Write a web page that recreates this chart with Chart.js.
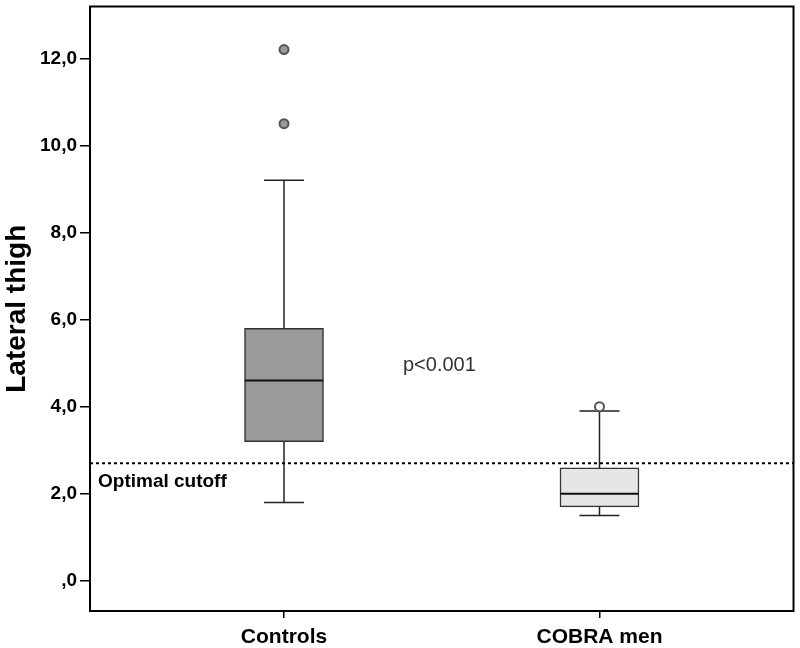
<!DOCTYPE html>
<html>
<head>
<meta charset="utf-8">
<script src="https://cdn.jsdelivr.net/npm/chart.js@4/dist/chart.umd.min.js"></script>
<style>
  html, body { margin: 0; padding: 0; background: #fff; }
  #wrap { width: 800px; height: 648px; }
</style>
</head>
<body>
<div id="wrap"><canvas id="boxChart" width="800" height="648"></canvas></div>
<script>
// groups and their box plot summaries
const groups = ['Controls', 'COBRA men'];
const groupPos = [1, 2];
const q1 = [3.2, 1.7];
const median = [4.6, 2.0];
const q3 = [5.8, 2.6];
const whiskerLow = [1.8, 1.5];
const whiskerHigh = [9.2, 3.9];
// outliers: group index + value
const outlierGroup = [0, 0, 1];
const outlierValue = [12.2, 10.5, 4.0];

const yTicks = [0, 2, 4, 6, 8, 10, 12];
const yTickLabels = [',0', '2,0', '4,0', '6,0', '8,0', '10,0', '12,0'];
const cutoff = 2.7;
const pText = 'p<0.001';

const boxFill = ['#9a9a9a', '#e6e6e6'];
const outlierFill = ['#9a9a9a', '#9a9a9a', '#ffffff'];

// whiskers, caps, medians, cutoff line, frame and annotations
const boxExtras = {
  id: 'boxExtras',
  beforeDatasetsDraw(chart) {
    const { ctx, scales: { x, y } } = chart;
    ctx.save();
    ctx.strokeStyle = '#222';
    ctx.lineWidth = 1.5;
    groupPos.forEach((g, i) => {
      const cx = x.getPixelForValue(g);
      ctx.beginPath();
      ctx.moveTo(cx, y.getPixelForValue(whiskerLow[i]));
      ctx.lineTo(cx, y.getPixelForValue(whiskerHigh[i]));
      [whiskerLow[i], whiskerHigh[i]].forEach(v => {
        const py = y.getPixelForValue(v);
        ctx.moveTo(cx - 20, py);
        ctx.lineTo(cx + 20, py);
      });
      ctx.stroke();
    });
    ctx.restore();
  },
  afterDatasetsDraw(chart) {
    const { ctx, chartArea: a, scales: { x, y } } = chart;
    ctx.save();
    ctx.strokeStyle = '#111';
    ctx.lineWidth = 2;
    groupPos.forEach((g, i) => {
      const cx = x.getPixelForValue(g);
      const py = y.getPixelForValue(median[i]);
      ctx.beginPath();
      ctx.moveTo(cx - 39, py);
      ctx.lineTo(cx + 39, py);
      ctx.stroke();
    });

    // optimal cutoff
    const cy = y.getPixelForValue(cutoff);
    ctx.setLineDash([3, 3]);
    ctx.strokeStyle = '#000';
    ctx.beginPath();
    ctx.moveTo(a.left, cy);
    ctx.lineTo(a.right, cy);
    ctx.stroke();
    ctx.setLineDash([]);

    ctx.fillStyle = '#000';
    ctx.font = 'bold 19px "Liberation Sans", Arial, sans-serif';
    ctx.textBaseline = 'middle';
    ctx.textAlign = 'left';
    ctx.fillText('Optimal cutoff', a.left + 8, cy + 18);

    ctx.fillStyle = '#333';
    ctx.font = '20px "Liberation Sans", Arial, sans-serif';
    ctx.fillText(pText, 403, 365);
    ctx.restore();
  },
  afterDraw(chart) {
    const { ctx, chartArea: a } = chart;
    ctx.save();
    ctx.strokeStyle = '#000';
    ctx.lineWidth = 2;
    ctx.strokeRect(a.left, a.top, a.right - a.left, a.bottom - a.top);
    ctx.restore();
  }
};

const ctx = document.getElementById('boxChart').getContext('2d');
new Chart(ctx, {
  type: 'bar',
  data: {
    datasets: [{
      type: 'bar',
      data: groupPos.map((g, i) => ({ x: g, y: [q1[i], q3[i]] })),
      backgroundColor: boxFill,
      borderColor: '#333',
      borderWidth: 1.5,
      borderSkipped: false,
      barThickness: 79
    }, {
      type: 'scatter',
      data: outlierValue.map((v, i) => ({ x: groupPos[outlierGroup[i]], y: v })),
      pointRadius: 4.5,
      pointBackgroundColor: outlierFill,
      pointBorderColor: '#555',
      pointBorderWidth: 2
    }]
  },
  options: {
    responsive: false,
    animation: false,
    layout: { padding: { top: 6, right: 2, left: 0, bottom: 0 } },
    plugins: {
      legend: { display: false },
      tooltip: { enabled: false }
    },
    scales: {
      x: {
        type: 'linear',
        offset: false,
        min: 0.385,
        max: 2.615,
        afterBuildTicks: s => { s.ticks = groupPos.map(v => ({ value: v })); },
        afterFit: s => { s.height = 37; s.paddingLeft = 0; s.paddingRight = 0; },
        grid: { display: true, offset: false, drawOnChartArea: false, drawTicks: true, tickLength: 7, color: '#000', lineWidth: 1.5 },
        border: { display: false },
        ticks: {
          color: '#000',
          padding: 7,
          maxRotation: 0,
          font: { family: '"Liberation Sans", Arial, sans-serif', size: 21, weight: 'bold' },
          callback: v => groups[groupPos.indexOf(v)]
        }
      },
      y: {
        min: -0.69,
        max: 13.19,
        afterBuildTicks: s => { s.ticks = yTicks.map(v => ({ value: v })); },
        afterFit: s => { s.width = 90; s.paddingTop = 0; s.paddingBottom = 0; },
        grid: { display: true, drawOnChartArea: false, drawTicks: true, tickLength: 10, color: '#000', lineWidth: 1.5 },
        border: { display: false },
        title: {
          display: true,
          text: 'Lateral thigh',
          color: '#000',
          padding: { top: 0, bottom: 0 },
          font: { family: '"Liberation Sans", Arial, sans-serif', size: 28, weight: 'bold' }
        },
        ticks: {
          color: '#000',
          padding: 3,
          font: { family: '"Liberation Sans", Arial, sans-serif', size: 19, weight: 'bold' },
          callback: v => yTickLabels[yTicks.indexOf(v)]
        }
      }
    }
  },
  plugins: [boxExtras]
});
</script>
</body>
</html>
